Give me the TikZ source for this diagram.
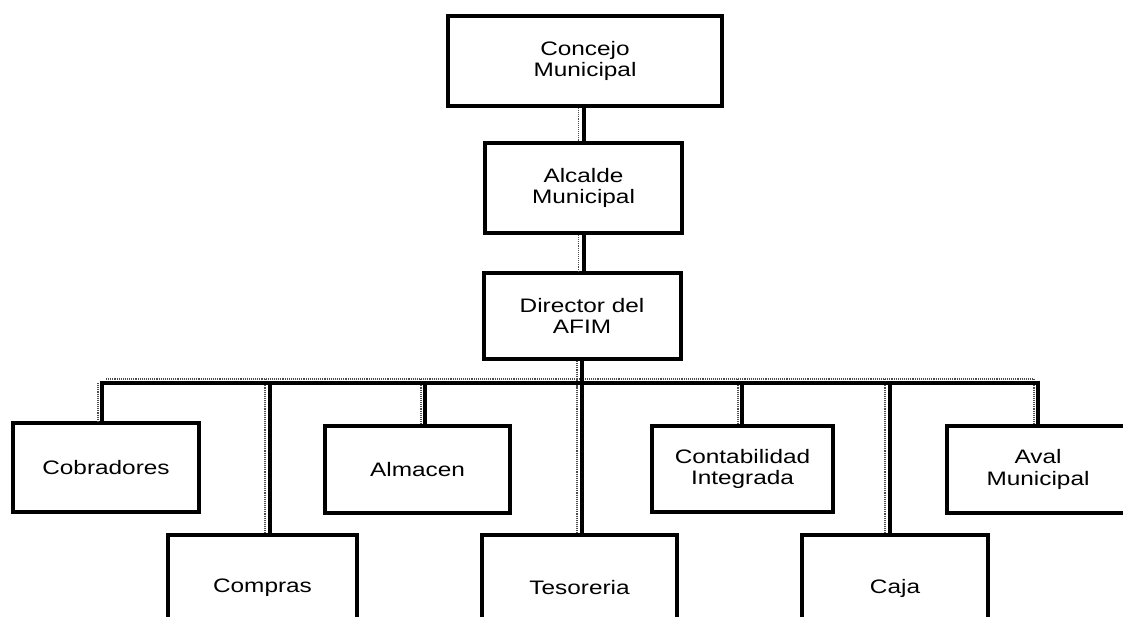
\documentclass[tikz,border=0pt]{standalone}
\usepackage{fontspec}
\newfontfamily\chartfont[FakeStretch=1.25]{Liberation Sans}
\begin{document}
\begin{tikzpicture}[x=1pt,y=-1pt,
  box/.style={draw=black, line width=4pt, rectangle, align=center,
    inner sep=0pt, font=\chartfont\fontsize{19.5}{21.7}\selectfont},
  link/.style={draw=black, line width=4pt},
  shadowline/.style={draw=black!70, line width=1.1pt, densely dotted}]
\clip (0,0) rectangle (1123,617);
\fill[white] (0,0) rectangle (1123,617);
% upper chain
\node[box, minimum width=274, minimum height=90] (concejo) at (585,61) {Concejo\\Municipal};
\node[box, minimum width=197, minimum height=90] (alcalde) at (583.5,188) {Alcalde\\Municipal};
\node[box, minimum width=197, minimum height=86] (director) at (582,316) {Director del\\AFIM};
% first row
\node[box, minimum width=186, minimum height=89] (cobr) at (106,467.5) {Cobradores};
\node[box, minimum width=185, minimum height=87] (alma) at (417.5,469.5) {Almacen};
\node[box, minimum width=181, minimum height=86] (conta) at (742.5,469) {Contabilidad\\Integrada};
\node[box, minimum width=182, minimum height=87] (aval) at (1038,469.5) {Aval\\Municipal};
% second row (cut off by the page bottom)
\node[box, minimum width=189, minimum height=106] (compras) at (262.5,588) {Compras};
\node[box, minimum width=195, minimum height=106] (teso) at (579.5,588) {Tesoreria};
\node[box, minimum width=186, minimum height=106] (caja) at (895,588) {Caja};
% bus coordinates
\coordinate (busL) at (102,383);
\coordinate (busR) at (1038,383);
\coordinate (bCom) at (270,383);
\coordinate (bAlm) at (425,383);
\coordinate (bTes) at (582,383);
\coordinate (bCon) at (742,383);
\coordinate (bCaj) at (890,383);
% dotted shadows
\draw[shadowline] ([xshift=-5]alcalde.north |- concejo.south) -- ([xshift=-5]alcalde.north);
\draw[shadowline] ([xshift=-5]alcalde.south) -- ([xshift=-5]alcalde.south |- director.north);
\draw[shadowline] ([xshift=-5]director.south) -- ([xshift=-5,yshift=-4]bTes);
\draw[shadowline] ([xshift=4,yshift=4]busL) -- ([xshift=-4,yshift=4]busR);
\draw[shadowline] ([xshift=-4]busL) -- ([xshift=-4]busL |- cobr.north);
\draw[shadowline] ([xshift=-5,yshift=4]bCom) -- ([xshift=-5]bCom |- compras.north);
\draw[shadowline] ([xshift=-4,yshift=4]bAlm) -- ([xshift=-4]bAlm |- alma.north);
\draw[shadowline] ([xshift=-5,yshift=4]bTes) -- ([xshift=-5]bTes |- teso.north);
\draw[shadowline] ([xshift=-4,yshift=4]bCon) -- ([xshift=-4]bCon |- conta.north);
\draw[shadowline] ([xshift=-5,yshift=4]bCaj) -- ([xshift=-5]bCaj |- caja.north);
\draw[shadowline] ([xshift=-4,yshift=4]busR) -- ([xshift=-4]busR |- aval.north);
% connectors
\draw[link] (alcalde.north |- concejo.south) -- (alcalde.north);
\draw[link] (alcalde.south) -- (alcalde.south |- director.north);
\draw[link] (director.south) -- (director.south |- busL);
\draw[link, line cap=rect] (busL) -- (busR);
\draw[link] (busL) -- (busL |- cobr.north);
\draw[link] (bCom) -- (bCom |- compras.north);
\draw[link] (bAlm) -- (bAlm |- alma.north);
\draw[link] (bTes) -- (bTes |- teso.north);
\draw[link] (bCon) -- (bCon |- conta.north);
\draw[link] (bCaj) -- (bCaj |- caja.north);
\draw[link] (busR) -- (busR |- aval.north);
\end{tikzpicture}
\end{document}
